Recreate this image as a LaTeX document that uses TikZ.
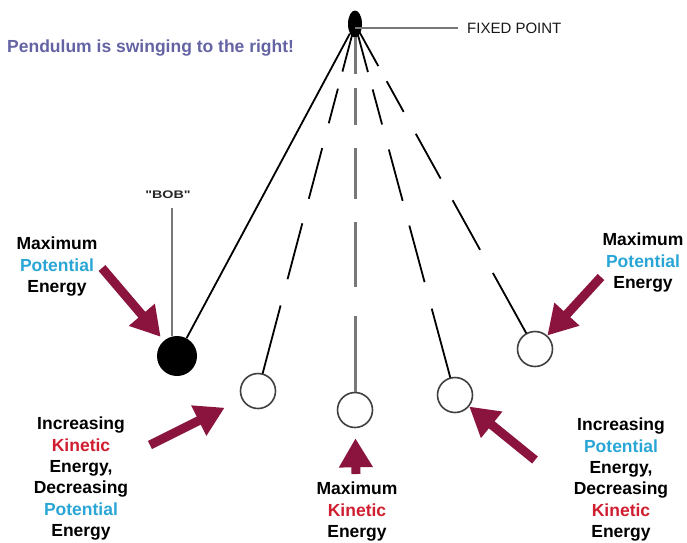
\documentclass[tikz,border=0pt]{standalone}
\usepackage{fontspec}
\setmainfont{Liberation Sans}
\newfontfamily\widefont[FakeStretch=1.3]{Liberation Sans}
\usetikzlibrary{arrows.meta,calc,shapes.geometric}
\definecolor{potc}{RGB}{42,166,214}
\definecolor{kinc}{RGB}{208,30,48}
\definecolor{arrc}{RGB}{138,20,62}
\definecolor{titc}{RGB}{100,100,165}
\definecolor{strg}{RGB}{120,120,120}
\newcommand{\potw}{\textcolor{potc}{Potential}}
\newcommand{\kinw}{\textcolor{kinc}{Kinetic}}
\begin{document}
\begin{tikzpicture}[x=1pt,y=-1pt,
  lbl/.style={align=center,anchor=north,inner sep=0pt,font=\fontsize{17.5}{21.3}\selectfont\bfseries},
  bigarrow/.style={draw=arrc,line width=9pt,-{Triangle[length=29pt,width=32pt]}},
  bobopen/.style={circle,draw=black!75,line width=1.6pt,minimum size=35pt,inner sep=0pt,fill=white},
  strline/.style={line width=1.8pt,draw=black},
  grayline/.style={line width=3pt,draw=strg}]

\useasboundingbox (0,0) rectangle (687,542);
\fill[white] (0,0) rectangle (687,542);

% title
\node[anchor=base west,inner sep=0pt,font=\fontsize{17.5}{20}\selectfont\bfseries,text=titc] (title) at (7,52) {Pendulum is swinging to the right!};

% pivot
\node[ellipse,fill=black,minimum width=14pt,minimum height=27pt,inner sep=0pt] (piv) at (355,24) {};

% bobs
\node[circle,fill=black,minimum size=40pt,inner sep=0pt] (b1) at (177,356) {};
\node[bobopen] (b2) at (258,391) {};
\node[bobopen] (b3) at (355,410) {};
\node[bobopen] (b4) at (455,395) {};
\node[bobopen] (b5) at (535,349) {};

% strings
\draw[strline] (piv) -- (b1);
\foreach \b in {b2,b4,b5}{
  \coordinate (e) at ($(\b)!18pt!(piv)$);
  \foreach \s/\t in {0/0.136,0.185/0.284,0.355/0.50,0.57/0.73,0.805/1}
    \draw[strline] ($(piv)!\s!(e)$) -- ($(piv)!\t!(e)$);
}
\coordinate (e3) at (b3.north);
\foreach \s/\t in {0.035/0.136,0.173/0.274,0.336/0.477,0.539/0.715,0.794/1}
  \draw[grayline] ($(piv)!\s!(e3)$) -- ($(piv)!\t!(e3)$);

% fixed point
\node[anchor=base west,inner sep=0pt,font=\fontsize{15}{18}\selectfont,text=black!90] (fix) at (467,33) {FIXED POINT};
\draw[line width=2.6pt,draw=strg] ([xshift=-9pt]fix.west) -- (fix.west -| piv.center);

% BOB label
\node[anchor=base,inner sep=0pt,font=\widefont\fontsize{11}{13}\selectfont\bfseries,text=black!85] (boblbl) at (168,198) {"BOB"};
\coordinate (bl) at (172,208);
\draw[line width=2.6pt,draw=strg] (bl) -- (bl |- b1.north);

% arrows
\coordinate (t1) at (102,268);
\coordinate (t2) at (150,445);
\coordinate (t3) at (356,474);
\coordinate (t4) at (535,460);
\coordinate (t5) at (601,277);
\draw[bigarrow,shorten >=5pt] (t1) -- (b1);
\draw[bigarrow,shorten >=19pt] (t2) -- (b2);
\draw[bigarrow,shorten >=10pt] (t3) -- (b3);
\draw[bigarrow] (t4) -- (b4);
\draw[bigarrow] (t5) -- (b5);

% labels
\node[lbl] (lmpe) at (57,237) {Maximum\\\potw\\Energy};
\node[lbl] (rmpe) at (643,233) {Maximum\\\potw\\Energy};
\node[lbl] (lbot) at (81,417) {Increasing\\\kinw\\Energy,\\Decreasing\\\potw\\Energy};
\node[lbl] (cbot) at (357,482) {Maximum\\\kinw\\Energy};
\node[lbl] (rbot) at (621,418) {Increasing\\\potw\\Energy,\\Decreasing\\\kinw\\Energy};
\end{tikzpicture}
\end{document}
